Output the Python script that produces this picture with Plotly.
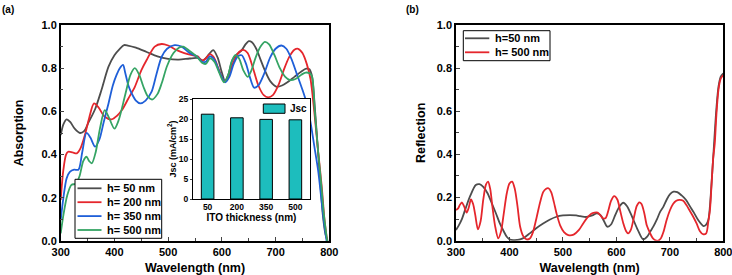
import plotly.graph_objects as go

# ---------------- data ----------------
wl_50 = [300,305,311,318,326,336,344,352,364,376,389,400,410,418,425,440,460,480,500,520,540,555,565,573,584,592,600,606,612,620,628,636,644,650,656,664,672,680,690,702,712,722,735,748,757,763,768,773,778,783,788,793,797]
ab_50 = [0.49,0.54,0.563,0.55,0.52,0.50,0.51,0.55,0.61,0.70,0.807,0.86,0.89,0.907,0.905,0.895,0.875,0.855,0.843,0.84,0.845,0.847,0.835,0.855,0.884,0.85,0.78,0.74,0.77,0.84,0.865,0.88,0.91,0.925,0.92,0.89,0.84,0.79,0.74,0.714,0.72,0.735,0.76,0.785,0.798,0.795,0.76,0.62,0.45,0.28,0.12,0.03,0.0]

wl_200 = [300,305,310,314,322,330,337,345,353,362,370,382,395,405,414,426,438,450,460,475,488,500,515,530,545,555,563,570,578,585,595,604,612,622,632,640,648,658,668,678,686,695,705,715,725,735,742,750,758,765,772,779,786,791,796]
ab_200 = [0.19,0.33,0.40,0.413,0.41,0.406,0.43,0.49,0.57,0.637,0.62,0.575,0.563,0.58,0.606,0.66,0.714,0.79,0.838,0.90,0.912,0.905,0.885,0.87,0.86,0.855,0.835,0.845,0.865,0.85,0.79,0.74,0.76,0.83,0.875,0.885,0.87,0.80,0.72,0.675,0.665,0.675,0.72,0.79,0.85,0.885,0.89,0.87,0.82,0.75,0.60,0.42,0.25,0.10,0.0]

wl_350 = [300,305,311,317,325,333,340,348,355,364,372,380,389,397,404,410,416,420,426,432,440,448,458,469,478,488,498,512,525,540,553,563,570,578,586,596,606,614,622,630,637,645,652,660,668,678,690,700,711,720,730,740,750,758,765,772,779,785,790,795]
ab_350 = [0.097,0.20,0.29,0.32,0.33,0.33,0.41,0.50,0.48,0.437,0.47,0.55,0.637,0.72,0.769,0.80,0.815,0.78,0.72,0.684,0.65,0.637,0.65,0.69,0.77,0.853,0.89,0.907,0.90,0.87,0.855,0.83,0.83,0.855,0.84,0.78,0.735,0.76,0.82,0.855,0.86,0.82,0.76,0.71,0.72,0.77,0.85,0.89,0.905,0.89,0.84,0.77,0.70,0.637,0.55,0.44,0.33,0.20,0.09,0.0]

wl_500 = [300,305,312,320,328,335,342,348,353,358,365,373,382,390,400,408,420,430,438,446,454,462,470,480,488,498,510,520,528,540,553,563,570,578,586,595,604,612,618,625,632,640,648,655,663,672,680,688,698,708,718,727,737,748,756,764,768,773,779,785,790,796]
ab_500 = [0.035,0.12,0.21,0.26,0.265,0.30,0.37,0.39,0.37,0.36,0.41,0.52,0.606,0.57,0.52,0.56,0.676,0.77,0.80,0.77,0.714,0.67,0.655,0.68,0.73,0.81,0.87,0.895,0.90,0.88,0.855,0.825,0.82,0.845,0.83,0.78,0.735,0.77,0.83,0.86,0.845,0.79,0.76,0.79,0.85,0.90,0.922,0.91,0.86,0.80,0.76,0.745,0.75,0.77,0.78,0.775,0.76,0.60,0.42,0.26,0.12,0.0]

ito_thickness = ["50", "200", "350", "500"]
jsc_values = [21.2, 20.3, 19.9, 19.8]

wl_r50 = [300,305,311,318,326,337,344,351,359,367,375,382,389,395,401,407,414,420,428,438,450,463,475,488,500,513,525,532,544,555,563,570,577,583,590,598,606,613,620,626,632,640,650,658,664,669,676,682,688,694,700,707,714,722,730,738,745,753,763,768,772,775,778,781,784,787,791,795,800]
rf_r50 = [0.05,0.07,0.10,0.15,0.204,0.258,0.262,0.25,0.22,0.173,0.125,0.08,0.045,0.0185,0.005,0.003,0.004,0.006,0.015,0.034,0.058,0.08,0.097,0.111,0.117,0.119,0.117,0.114,0.11,0.117,0.127,0.12,0.09,0.065,0.075,0.12,0.16,0.176,0.16,0.13,0.096,0.05,0.006,0.02,0.045,0.065,0.10,0.135,0.158,0.19,0.215,0.227,0.225,0.21,0.19,0.158,0.13,0.096,0.068,0.075,0.096,0.16,0.266,0.38,0.50,0.61,0.714,0.76,0.776]

wl_r500 = [300,304,307,311,315,320,324,328,332,336,341,346,351,356,360,364,368,373,379,384,389,395,400,405,410,415,420,426,432,438,444,451,457,463,468,473,478,483,488,495,502,510,520,530,538,546,553,559,565,570,575,580,585,590,596,602,607,613,618,622,627,633,638,643,647,652,657,663,668,673,678,683,688,694,700,706,712,718,725,731,737,744,750,756,762,768,772,775,778,781,784,787,791,795,800]
rf_r500 = [0.142,0.15,0.165,0.178,0.16,0.13,0.155,0.192,0.17,0.12,0.053,0.09,0.19,0.26,0.274,0.24,0.16,0.07,0.011,0.04,0.12,0.22,0.265,0.274,0.24,0.16,0.065,0.02,0.006,0.01,0.04,0.11,0.175,0.225,0.24,0.243,0.225,0.18,0.127,0.07,0.04,0.026,0.028,0.05,0.08,0.108,0.125,0.13,0.13,0.118,0.104,0.105,0.14,0.185,0.207,0.19,0.14,0.08,0.045,0.034,0.05,0.11,0.16,0.178,0.17,0.13,0.07,0.035,0.012,0.002,0.0,0.01,0.04,0.096,0.14,0.17,0.185,0.189,0.185,0.165,0.14,0.11,0.08,0.045,0.03,0.034,0.09,0.142,0.26,0.38,0.45,0.58,0.70,0.75,0.768]

legend_a = ["h= 50 nm", "h= 200 nm", "h= 350 nm", "h= 500 nm"]
legend_b = ["h=50 nm", "h= 500 nm"]

# ---------------- styling ----------------
FONT = "Arial, Liberation Sans, sans-serif"
C_GRAY = "#4d4d4d"
C_RED = "#e5262c"
C_BLUE = "#1f5fd8"
C_GREEN = "#35a464"
C_TEAL = "#1dbdbd"
LW = 1.8

W, H = 732, 275
def px(x):
    return x / W
def py(y):
    return (H - y) / H

fig = go.Figure()

def line(x, y, name, color, xa, ya):
    fig.add_trace(go.Scatter(
        x=x, y=y, mode="lines", name=name, showlegend=False,
        line=dict(color=color, width=LW, shape="spline", smoothing=0.8),
        xaxis=xa, yaxis=ya))

colors_a = [C_GRAY, C_RED, C_BLUE, C_GREEN]
for (xx, yy), nm, c in zip([(wl_50, ab_50), (wl_200, ab_200), (wl_350, ab_350), (wl_500, ab_500)], legend_a, colors_a):
    line(xx, yy, nm, c, "x", "y")

colors_b = [C_GRAY, C_RED]
for (xx, yy), nm, c in zip([(wl_r50, rf_r50), (wl_r500, rf_r500)], legend_b, colors_b):
    line(xx, yy, nm, c, "x2", "y2")

fig.add_trace(go.Bar(
    x=ito_thickness, y=jsc_values, name="Jsc", width=0.43, showlegend=False,
    marker=dict(color=C_TEAL, line=dict(color="black", width=1)),
    xaxis="x3", yaxis="y3"))

tickfont = dict(family=FONT, size=11, color="black", weight="bold")
titlefont = dict(family=FONT, size=12.5, color="black", weight="bold")

main_x = dict(range=[300, 800], dtick=100, ticks="inside", ticklen=4, tickwidth=1.2,
              minor=dict(dtick=50, ticks="inside", ticklen=3, tickwidth=1),
              showline=True, linecolor="black", linewidth=1.5, mirror=True,
              showgrid=False, zeroline=False, tickfont=tickfont,
              ticklabeloverflow="allow",
              title=dict(text="Wavelength (nm)", font=titlefont, standoff=8),
              automargin=False)
main_y = dict(range=[0, 1.0], dtick=0.2, tickformat=".1f", ticks="inside", ticklen=4, tickwidth=1.2,
              minor=dict(dtick=0.1, ticks="inside", ticklen=3, tickwidth=1),
              showline=True, linecolor="black", linewidth=1.5, mirror=True,
              showgrid=False, zeroline=False, tickfont=tickfont, automargin=False)

inset_font = dict(family=FONT, size=8.5, color="black", weight="bold")

shapes = []
annotations = []
legfont = dict(family=FONT, size=11, color="black", weight="bold")

# legend (a)
shapes.append(dict(type="rect", xref="paper", yref="paper", x0=px(75), x1=px(161.7),
                   y0=py(238.3), y1=py(179.3), line=dict(color="black", width=1), fillcolor="white", layer="above"))
for i, (nm, c) in enumerate(zip(legend_a, colors_a)):
    yc = 188.3 + i * 13.9
    shapes.append(dict(type="line", xref="paper", yref="paper", x0=px(77.5), x1=px(101.5),
                       y0=py(yc), y1=py(yc), line=dict(color=c, width=LW), layer="above"))
    annotations.append(dict(text=nm, x=px(104.5), y=py(yc), xref="paper", yref="paper",
                            xanchor="left", yanchor="middle", showarrow=False, font=legfont))

# legend (b)
shapes.append(dict(type="rect", xref="paper", yref="paper", x0=px(463.3), x1=px(550),
                   y0=py(60.7), y1=py(30.7), line=dict(color="black", width=1), fillcolor="white", layer="above"))
for i, (nm, c) in enumerate(zip(legend_b, colors_b)):
    yc = 38.3 + i * 14.0
    shapes.append(dict(type="line", xref="paper", yref="paper", x0=px(465), x1=px(489.3),
                       y0=py(yc), y1=py(yc), line=dict(color=c, width=LW), layer="above"))
    annotations.append(dict(text=nm, x=px(492.5), y=py(yc), xref="paper", yref="paper",
                            xanchor="left", yanchor="middle", showarrow=False, font=legfont))

# inset legend
shapes.append(dict(type="rect", xref="paper", yref="paper", x0=px(263.3), x1=px(285),
                   y0=py(113.3), y1=py(104), line=dict(color="black", width=1), fillcolor=C_TEAL, layer="above"))
annotations.append(dict(text="Jsc", x=px(287.5), y=py(108.7), xref="paper", yref="paper",
                        xanchor="left", yanchor="middle", showarrow=False,
                        font=dict(family=FONT, size=10, color="black", weight="bold")))

annotations.append(dict(text="(a)", x=0, y=py(2), xref="paper", yref="paper", xanchor="left", yanchor="top",
                        showarrow=False, font=dict(family=FONT, size=10, color="black", weight="bold")))
annotations.append(dict(text="(b)", x=px(404), y=py(2), xref="paper", yref="paper", xanchor="left", yanchor="top",
                        showarrow=False, font=dict(family=FONT, size=10, color="black", weight="bold")))

fig.update_layout(
    width=W, height=H,
    margin=dict(l=0, r=0, t=0, b=0),
    paper_bgcolor="white", plot_bgcolor="white",
    font=dict(family=FONT, color="black"),
    showlegend=False,
    xaxis=dict(main_x, domain=[px(60.7), px(329.3)], anchor="y"),
    yaxis=dict(main_y, domain=[py(241), py(25)], anchor="x",
               title=dict(text="Absorption", font=titlefont, standoff=15)),
    xaxis2=dict(main_x, domain=[px(456), px(723.3)], anchor="y2"),
    yaxis2=dict(main_y, domain=[py(240.7), py(25)], anchor="x2",
                title=dict(text="Reflection", font=titlefont, standoff=8)),
    xaxis3=dict(domain=[px(193), px(310)], anchor="y3", type="category",
                range=[-0.5, 3.5], ticks="", ticklen=0,
                showline=True, linecolor="black", linewidth=1, mirror=True,
                showgrid=False, tickfont=inset_font,
                title=dict(text="ITO thickness (nm)", font=dict(family=FONT, size=10, color="black", weight="bold"), standoff=0),
                automargin=False),
    yaxis3=dict(domain=[py(199), py(99)], anchor="x3", range=[0, 25], dtick=5,
                ticks="outside", ticklen=2,
                showline=True, linecolor="black", linewidth=1, mirror=True,
                showgrid=False, zeroline=False, tickfont=inset_font,
                title=dict(text="Jsc (mA/cm<sup>2</sup>)", font=dict(family=FONT, size=9, color="black", weight="bold"), standoff=0),
                automargin=False),
    shapes=shapes,
    annotations=annotations,
)

fig.write_html("out.html", config={"displayModeBar": False},
               post_script="document.body.style.margin='0';document.body.style.overflow='hidden';")
